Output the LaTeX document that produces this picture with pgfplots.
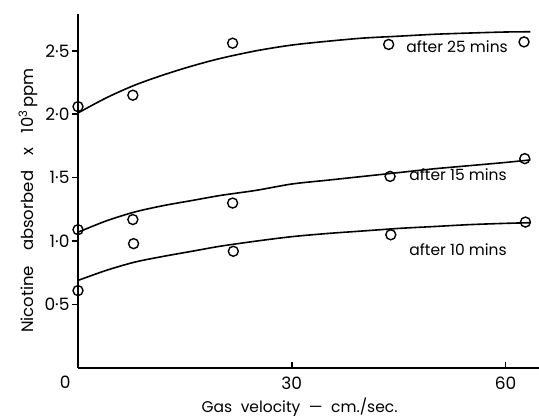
\documentclass[border=0pt]{standalone}
\usepackage{pgfplots}
\pgfplotsset{compat=1.18}
\usepackage{fontspec}
\setmainfont{Poppins}
\newcommand{\wsp}{\hspace{0.55em}}
\newcommand{\wwsp}{\hspace{0.9em}}
\begin{document}
\begin{tikzpicture}
\useasboundingbox (-78pt,-51pt) rectangle (461pt,368pt);
\begin{axis}[
  at={(0,0)}, anchor=south west,
  scale only axis, width=461pt, height=354pt,
  xmin=0, xmax=64.7, ymin=0, ymax=2.79,
  axis x line=bottom, axis y line=left,
  axis line style={-, line width=2.3pt},
  clip=false,
  xtick={30,60}, xticklabels={30,60},
  ytick={0.5,1,1.5,2,2.5},
  yticklabels={0·5,1·0,1·5,2·0,2·5},
  tick align=outside,
  major tick length=6pt,
  tick style={line width=1.5pt, black},
  x tick style={yshift=6pt},
  ticklabel style={font=\fontsize{17}{19}\selectfont},
  xticklabel style={yshift=1pt},
  yticklabel style={xshift=1pt},
]
% fitted curves
\addplot[smooth, line width=1.6pt] coordinates {
  (0,2.01) (4,2.13) (8,2.23) (12,2.31) (16,2.38) (20,2.44) (25,2.50)
  (30,2.545) (35,2.575) (40,2.60) (45,2.615) (50,2.63) (55,2.64) (60,2.648) (63.5,2.65)};
\addplot[smooth, line width=1.6pt] coordinates {
  (0,1.07) (4,1.16) (8,1.23) (12,1.28) (16,1.32) (20,1.36) (25,1.40)
  (30,1.45) (35,1.48) (40,1.51) (45,1.54) (50,1.57) (55,1.595) (60,1.62) (63.5,1.64)};
\addplot[smooth, line width=1.6pt] coordinates {
  (0,0.69) (4,0.77) (8,0.835) (12,0.88) (16,0.92) (20,0.96) (25,1.00)
  (30,1.035) (35,1.06) (40,1.08) (45,1.10) (50,1.115) (55,1.13) (60,1.14) (63.5,1.145)};
% measured points
\addplot[only marks, mark=o, mark size=5pt, mark options={line width=1.4pt, fill=white}] coordinates {
  (0,2.06) (7.7,2.15) (21.7,2.56) (43.6,2.55) (62.6,2.57)};
\addplot[only marks, mark=o, mark size=5pt, mark options={line width=1.4pt, fill=white}] coordinates {
  (0,1.09) (7.7,1.17) (21.7,1.30) (43.8,1.51) (62.7,1.65)};
\addplot[only marks, mark=o, mark size=5pt, mark options={line width=1.4pt, fill=white}] coordinates {
  (0,0.61) (7.8,0.98) (21.8,0.92) (43.9,1.05) (62.8,1.15)};
% curve labels
\node[anchor=west, font=\fontsize{15.5}{17}\selectfont] at (axis cs:45.6,2.53) {after 25 mins};
\node[anchor=west, font=\fontsize{15.5}{17}\selectfont] at (axis cs:46.0,1.52) {after 15 mins};
\node[anchor=west, font=\fontsize{15.5}{17}\selectfont] at (axis cs:46.0,0.93) {after 10 mins};
% origin label and axis titles
\node[font=\fontsize{17}{19}\selectfont] at (axis cs:-1.8,-0.11) {0};
\node[anchor=base, font=\fontsize{15.5}{17}\selectfont, inner sep=0pt] at (axis cs:31.1,-0.35) {Gas\wsp velocity\wsp —\wsp cm./sec.};
\node[rotate=90, font=\fontsize{16.5}{18}\selectfont] at (axis cs:-7,1.32) {Nicotine\wwsp absorbed\wwsp x\wwsp 10\textsuperscript{3}\,ppm};
\end{axis}
\end{tikzpicture}
\end{document}
